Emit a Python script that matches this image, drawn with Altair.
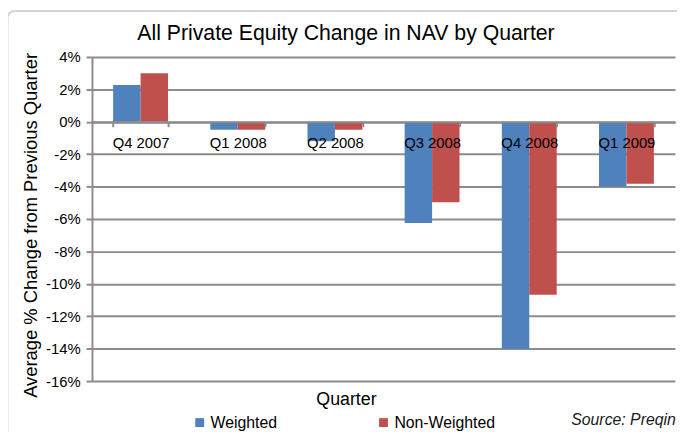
import altair as alt
import pandas as pd

quarters = ["Q4 2007", "Q1 2008", "Q2 2008", "Q3 2008", "Q4 2008", "Q1 2009"]
series_names = ["Weighted", "Non-Weighted"]
weighted = [2.27, -0.49, -1.2, -6.25, -14.0, -4.0]
non_weighted = [3.0, -0.49, -0.49, -4.97, -10.68, -3.82]
colors = ["#4F81BD", "#C0504D"]
y_ticks = list(range(-16, 5, 2))
title_text = "All Private Equity Change in NAV by Quarter"
y_title = "Average % Change from Previous Quarter"
x_title = "Quarter"
source_text = "Source: Preqin"

rows = []
for q, w, n in zip(quarters, weighted, non_weighted):
    rows.append({"quarter": q, "series": series_names[0], "value": w})
    rows.append({"quarter": q, "series": series_names[1], "value": n})
df = pd.DataFrame(rows)

FONT = "Liberation Sans"
GRID = "#8c8c8c"
W, H = 590, 328
zero_y = H * 4 / 20

bars = alt.Chart(df).mark_bar().encode(
    x=alt.X(
        "quarter:N",
        sort=quarters,
        scale=alt.Scale(paddingInner=0.435, paddingOuter=0.2175),
        axis=alt.Axis(
            orient="bottom",
            offset=zero_y - H,
            zindex=1,
            tickBand="extent",
            ticks=True,
            tickSize=5,
            tickColor=GRID,
            tickWidth=2,
            domain=True,
            domainColor=GRID,
            domainWidth=2,
            grid=False,
            labelAngle=0,
            labelFontSize=15,
            labelColor="#000000",
            labelPadding=9,
            title=x_title,
            titleFontSize=18,
            titleFontWeight="normal",
            titleColor="#000000",
            titleX=257,
            titleY=286,
            titleAlign="center",
            titleBaseline="alphabetic",
        ),
    ),
    xOffset=alt.XOffset(
        "series:N",
        sort=series_names,
        scale=alt.Scale(paddingInner=0, paddingOuter=0),
    ),
    y=alt.Y(
        "value:Q",
        scale=alt.Scale(domain=[-16, 4], nice=False, zero=False),
        axis=alt.Axis(
            values=y_ticks,
            labelExpr="datum.value + '%'",
            grid=True,
            gridColor=GRID,
            gridWidth=2,
            domain=True,
            domainColor=GRID,
            domainWidth=2,
            ticks=True,
            tickSize=6,
            tickColor=GRID,
            tickWidth=2,
            labelFontSize=15,
            labelColor="#000000",
            labelPadding=6,
            title=y_title,
            titleFontSize=18.6,
            titleFontWeight="normal",
            titleColor="#000000",
            titleAngle=270,
            titleX=-56,
            titleY=170,
            titleAlign="center",
            titleBaseline="alphabetic",
        ),
    ),
    color=alt.Color(
        "series:N",
        sort=series_names,
        scale=alt.Scale(domain=series_names, range=colors),
        legend=alt.Legend(
            orient="none",
            legendX=101,
            legendY=362,
            direction="horizontal",
            title=None,
            symbolType="square",
            symbolSize=81,
            symbolStrokeWidth=0,
            labelFontSize=16,
            labelColor="#000000",
            labelOffset=3,
            columnPadding=99,
            padding=0,
        ),
    ),
)

frame = alt.Chart(alt.Data(values=[{"a": 1}])).mark_rect(
    fillOpacity=0, stroke="#d4d4d4", strokeWidth=2, cornerRadius=7
).encode(
    x=alt.value(-85.5), x2=alt.value(640), y=alt.value(-46.5), y2=alt.value(420)
)

source = alt.Chart(alt.Data(values=[{"label": source_text}])).mark_text(
    align="left", baseline="alphabetic", fontStyle="italic", fontSize=16, color="#1a1a1a"
).encode(
    x=alt.value(485), y=alt.value(372), text="label:N"
)

chart = alt.layer(frame, bars, source).properties(
    width=W,
    height=H,
    autosize="none",
    padding={"left": 85, "top": 47, "right": 2, "bottom": 49},
    title=alt.TitleParams(
        title_text,
        fontSize=21.5,
        fontWeight="normal",
        color="#000000",
        anchor="middle",
        frame="group",
        dx=-38,
        offset=-35,
    ),
).configure(font=FONT).configure_view(stroke=None)

chart.save("out.html", embed_options={"renderer": "svg", "actions": False})
